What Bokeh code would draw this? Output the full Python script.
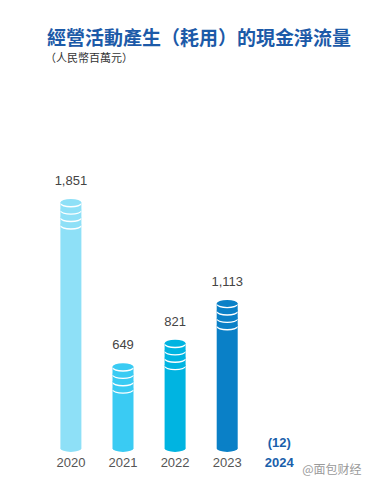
from bokeh.plotting import figure
from bokeh.models import ColumnDataSource, Range1d
from bokeh.core.properties import value
from bokeh.embed import file_html
from bokeh.resources import INLINE

# ---- data ----
years = ["2020", "2021", "2022", "2023", "2024"]
cash_flow = [1851, 649, 821, 1113, -12]
value_labels = ["1,851", "649", "821", "1,113", "(12)"]
bar_colors = ["#8ee0f7", "#3acbf3", "#00b4e1", "#0a80c7", "#1a5fab"]
title_text = "經營活動產生（耗用）的現金淨流量"
subtitle_text = "（人民幣百萬元）"
watermark_text = "@面包财经"

# ---- layout (pixels) ----
W, H = 363, 476
OFF = 0            # page offset of the figure
PX_FIRST = 70.4    # centre of first bar (page px)
PX_STEP = 52.1     # spacing between bars (page px)
BASE_PY = 451.4    # baseline (page px)
PX_PER_UNIT = 0.13659

X0 = -(PX_FIRST - OFF) / PX_STEP
X1 = (W - (PX_FIRST - OFF)) / PX_STEP
UPP = 1.0 / PX_PER_UNIT
Y0 = -(H - (BASE_PY - OFF)) * UPP
Y1 = (BASE_PY - OFF) * UPP

NUM_FONT = "'Liberation Sans Narrow', 'Arial Narrow', 'Liberation Sans', sans-serif"


def dx(px):
    return X0 + (px - OFF) / W * (X1 - X0)


def dy(py):
    return Y1 - (py - OFF) / H * (Y1 - Y0)


p = figure(width=W, height=H, output_backend="svg", toolbar_location=None,
           x_range=Range1d(X0, X1), y_range=Range1d(Y0, Y1),
           min_border=0, min_border_left=0, min_border_right=0,
           min_border_top=0, min_border_bottom=0)
p.axis.visible = False
p.grid.visible = False
p.outline_line_color = None
p.background_fill_color = "white"

xs = list(range(len(years)))
bw = 21.0 / PX_STEP
eh = 7.0 * UPP       # ellipse height
step = 7.4 * UPP     # coin spacing
gap = 1.4 * UPP      # white crescent thickness

pos_idx = [i for i, v in enumerate(cash_flow) if v > 0]
bx = [xs[i] for i in pos_idx]
bv = [cash_flow[i] for i in pos_idx]
bc = [bar_colors[i] for i in pos_idx]

# bar body
p.vbar(x=bx, bottom=[eh / 2] * len(bx), top=[v - eh / 2 for v in bv],
       width=bw, fill_color=bc, line_color=None)
# rounded bottom
p.ellipse(x=bx, y=[eh / 2] * len(bx), width=bw, height=eh,
          fill_color=bc, line_color=None)
# stacked coin tops: white ellipse with coloured ellipse slightly above
for k in [3, 2, 1, 0]:
    cy = [v - eh / 2 - gap - k * step for v in bv]
    p.ellipse(x=bx, y=cy, width=bw, height=eh,
              fill_color="white", line_color=None)
    p.ellipse(x=bx, y=[c + gap for c in cy], width=bw, height=eh,
              fill_color=bc, line_color=None)

# value labels
lab_y = [v + 18.5 * UPP if v > 0 else 9.5 * UPP for v in cash_flow]
lab_col = ["#444444" if v > 0 else "#1a5fab" for v in cash_flow]
lab_style = ["normal" if v > 0 else "bold" for v in cash_flow]
src = ColumnDataSource(dict(x=xs, y=lab_y, t=value_labels, c=lab_col, s=lab_style))
p.text(x="x", y="y", text="t", source=src, text_color="c", text_font_style="s",
       text_font=value(NUM_FONT), text_font_size="13px",
       text_align="center", text_baseline="middle")

# year labels
yr_col = ["#555555"] * 4 + ["#1a5fab"]
yr_style = ["normal"] * 4 + ["bold"]
ysrc = ColumnDataSource(dict(x=xs, y=[-10.6 * UPP] * len(xs), t=years, c=yr_col, s=yr_style))
p.text(x="x", y="y", text="t", source=ysrc, text_color="c", text_font_style="s",
       text_font=value(NUM_FONT), text_font_size="13px",
       text_align="center", text_baseline="middle")

# titles
p.text(x=[dx(46.5)], y=[dy(35.5)], text=[title_text], text_color="#1c5aa8",
       text_font=value("Noto Sans CJK TC"), text_font_style="bold",
       text_font_size="19px", text_align="left", text_baseline="middle")
p.text(x=[dx(44.5)], y=[dy(56.7)], text=[subtitle_text], text_color="#333333",
       text_font=value("Noto Sans CJK TC"), text_font_size="11px",
       text_align="left", text_baseline="middle")
p.text(x=[dx(361)], y=[dy(468)], text=[watermark_text], text_color="#9a9a9a",
       text_font=value("Noto Sans CJK SC"), text_font_size="12px",
       text_align="right", text_baseline="middle")

open("out.html", "w").write(file_html(p, INLINE))
